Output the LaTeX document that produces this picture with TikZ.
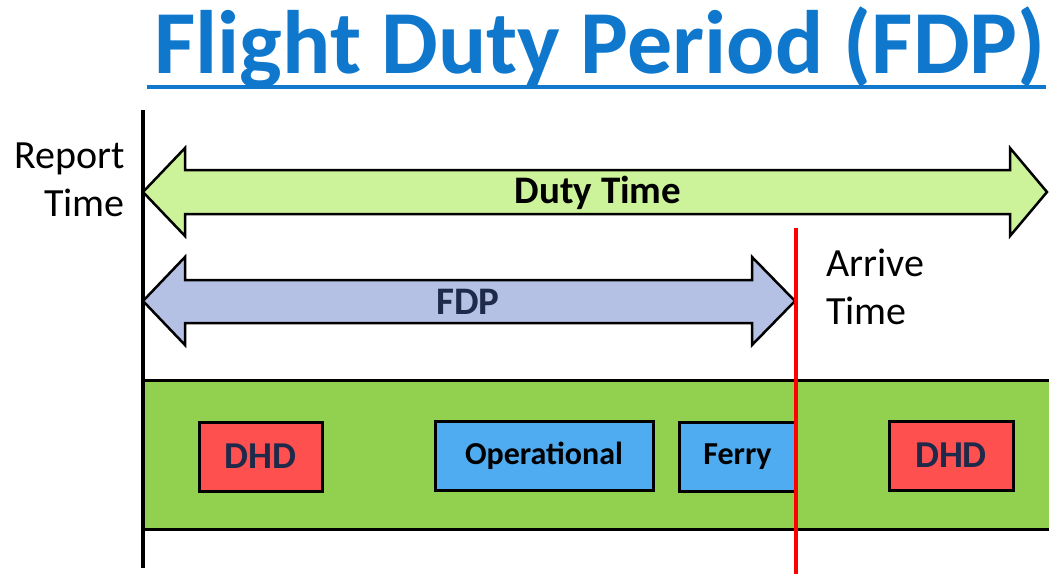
\documentclass[tikz,border=0pt]{standalone}
\usepackage{fontspec}
\setmainfont{Carlito}
\definecolor{titleblue}{HTML}{0F77CC}
\definecolor{dutygreen}{HTML}{CCF29A}
\definecolor{fdpblue}{HTML}{B4C0E4}
\definecolor{bandgreen}{HTML}{92D050}
\definecolor{dhdred}{HTML}{FF5050}
\definecolor{opblue}{HTML}{4FACF0}
\definecolor{navy}{HTML}{1F2A4A}
\tikzset{
  arrowshape/.style={draw=black, line width=2.5pt, line join=miter},
  segbox/.style={draw=black, line width=3pt, minimum height=69pt, inner sep=0pt},
  sidelabel/.style={font=\fontsize{40}{48}\selectfont, inner sep=0pt},
}
\begin{document}
\begin{tikzpicture}[x=1pt,y=-1pt]
\useasboundingbox (0,0) rectangle (1049,573);
\clip (0,0) rectangle (1049,573);

% title
\node[anchor=base, text=titleblue, font=\fontsize{90}{100}\selectfont\bfseries, inner sep=0pt] (title) at (600,73) {Flight Duty Period (FDP)};
\fill[titleblue] (147,85) rectangle (1046,89);

% activity band
\draw[fill=bandgreen, line width=3pt] (143,380) rectangle (1060,529);

% duty time double arrow
\draw[arrowshape, fill=dutygreen] (143,192) -- (185,148) -- (185,170) -- (1010,170) -- (1010,148)
  -- (1047,192) -- (1010,236) -- (1010,214) -- (185,214) -- (185,236) -- cycle;
\node[font=\fontsize{39}{44}\selectfont\bfseries, inner sep=0pt] (duty) at (598,193) {Duty Time};

% flight duty period double arrow
\draw[arrowshape, fill=fdpblue] (143,301) -- (185,257) -- (185,280) -- (752,280) -- (752,257)
  -- (795,301) -- (752,345) -- (752,323) -- (185,323) -- (185,345) -- cycle;
\node[font=\fontsize{39}{44}\selectfont\bfseries, text=navy, inner sep=0pt] (fdp) at (468,302) {FDP};

% segments
\node[segbox, fill=dhdred, minimum width=123pt, text=navy, font=\fontsize{38}{44}\selectfont\bfseries] (dhdA) at (260.5,456.5) {DHD};
\node[segbox, fill=opblue, minimum width=218pt, font=\fontsize{32}{38}\selectfont\bfseries] (oper) at (544,456) {Operational};
\node[segbox, fill=opblue, minimum width=117pt, font=\fontsize{32}{38}\selectfont\bfseries] (ferry) at (737.5,456.5) {Ferry};
\node[segbox, fill=dhdred, minimum width=124pt, text=navy, font=\fontsize{38}{44}\selectfont\bfseries] (dhdB) at (951,455.5) {DHD};

% report time line and arrival line
\coordinate (repTop) at (143,110);
\coordinate (repBot) at (143,568);
\draw[line width=4pt] (repTop) -- (repBot);
\coordinate (arrTop) at (796,228);
\coordinate (arrBot) at (796,575);
\draw[red, line width=4pt] (arrTop) -- (arrBot);

% side labels
\node[sidelabel, anchor=base east] (report) at (125,168) {Report};
\node[sidelabel, anchor=base east] (reportT) at (125,216) {Time};
\node[sidelabel, anchor=base west] (arrive) at (826,276) {Arrive};
\node[sidelabel, anchor=base west] (arriveT) at (826,324) {Time};
\end{tikzpicture}
\end{document}
